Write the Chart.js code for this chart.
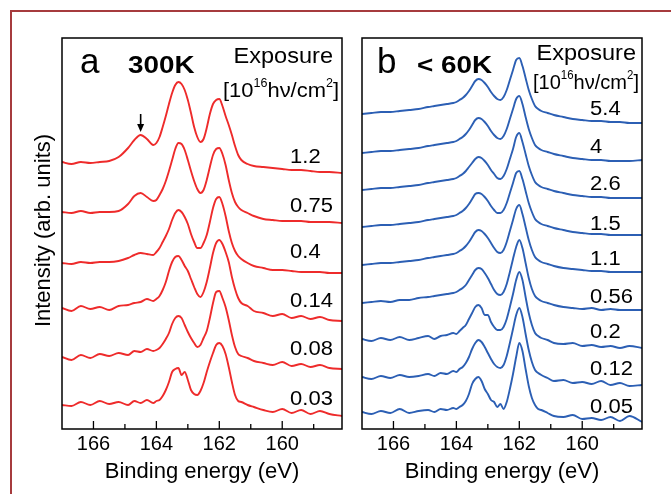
<!DOCTYPE html>
<html>
<head>
<meta charset="utf-8">
<script src="https://cdn.jsdelivr.net/npm/chart.js@4.4.1/dist/chart.umd.min.js"></script>
<style>
  html, body { margin: 0; padding: 0; background: #fff; overflow: hidden; }
  #page { position: relative; width: 671px; height: 494px; overflow: hidden; background: #fff; }
  #frame { position: absolute; left: 10px; top: 10px; width: 720px; height: 540px; border-left: 2px solid #a63b3d; border-top: 2px solid #a63b3d; }
  canvas { position: absolute; top: 0; }
  #chartA { left: 0; }
  #chartB { left: 352px; }
</style>
</head>
<body>
<div id="page">
  <div id="frame"></div>
  <canvas id="chartA" width="352" height="494"></canvas>
  <canvas id="chartB" width="319" height="494"></canvas>
</div>
<script>
const FONT = '"Liberation Sans", Arial, Helvetica, sans-serif';
Chart.defaults.font.family = FONT;
Chart.defaults.color = '#000';

// binding energy grid (eV), finer around the two S 2p peaks
const energies = [167, 166.7, 166.4, 166.1, 165.8, 165.5, 165.2, 164.9, 164.7, 164.5, 164.3,
  164.1, 164.0, 163.9, 163.8, 163.7, 163.6, 163.5, 163.4, 163.3, 163.2,
  163.1, 163.0, 162.9, 162.8, 162.7, 162.6, 162.5, 162.4, 162.3, 162.2,
  162.1, 162.0, 161.9, 161.8, 161.7, 161.6, 161.5, 161.4, 161.3,
  161.1, 160.9, 160.6, 160.3, 160.0, 159.7, 159.4, 159.1, 158.8, 158.5, 158.1];
const xTicks = [166, 164, 162, 160];
const xMinorTicks = [165, 163, 161, 159];

// panel a : 300K (offset spectra, arb. units)
const expA = ['1.2', '0.75', '0.4', '0.14', '0.08', '0.03'];
const a_1_2 = [267,265,267,266,267,268,272,281,289,294,290,
  284,286,292,302,313,325,336,344,347,345,339,329,316,302,292,287,290,301,315,325,329,330,323,313,304,294,283,274,269,
  265,263,262,261,260,259,259,258,257,257,256];
const a_0_75 = [217,216,218,216,217,217,218,225,233,236,232,
  228,229,234,240,248,258,269,280,286,285,279,269,258,248,240,236,239,249,262,274,280,281,275,264,249,236,227,222,219,
  216,213,210,209,208,208,208,207,207,207,206];
const a_0_4 = [166,165,167,166,167,167,168,171,174,176,175,
  174,177,181,187,193,200,209,216,219,217,212,205,195,187,181,181,186,194,207,221,230,232,225,213,198,186,178,173,170,
  166,163,161,159,159,158,157,157,157,156,156];
const a_0_14 = [121,118,123,120,122,119,123,124,126,127,130,
  128,130,133,139,147,158,167,172,173,169,163,158,150,142,135,132,137,147,161,176,186,189,185,177,167,152,140,131,126,
  123,118,116,113,115,111,113,110,112,109,108];
const a_0_08 = [72,69,74,71,75,73,76,74,78,77,80,
  78,79,81,85,90,96,105,111,113,111,104,97,91,86,82,84,91,98,111,126,137,138,131,122,109,94,82,75,73,
  71,68,66,64,67,63,65,62,64,61,60];
const a_0_03 = [24,23,27,24,28,25,27,24,28,26,29,
  26,28,29,33,39,47,57,60,61,54,57,49,39,35,34,38,46,57,67,76,84,86,83,75,62,47,34,28,27,
  24,22,19,17,20,16,19,15,18,15,13];
const labelLevelA = [266, 217, 171, 122, 74, 24];

// panel b : < 60K
const expB = ['5.4', '4', '2.6', '1.5', '1.1', '0.56', '0.2', '0.12', '0.05'];
const b_5_4 = [315,316,317,317,318,319,320,322,323,324,325,
  326,327,329,331,334,338,343,348,350,349,346,342,337,333,330,329,332,339,349,359,369,371,363,351,339,330,323,320,318,
  316,314,312,310,309,308,308,307,307,306,306];
const b_4 = [276,277,278,278,279,280,281,283,284,285,286,
  287,288,290,292,295,299,304,309,311,310,307,303,298,294,291,290,293,300,310,320,330,333,325,312,300,291,284,281,279,
  277,275,273,271,270,269,269,268,268,268,269];
const b_2_6 = [239,240,241,241,242,243,244,246,247,248,249,
  250,251,253,255,258,262,266,270,272,271,268,264,259,255,251,250,253,260,270,280,292,296,287,275,263,254,247,244,242,
  240,238,236,234,233,232,232,231,231,231,231];
const b_1_5 = [202,203,204,204,205,206,207,209,210,211,212,
  213,214,216,218,221,225,230,235,236,235,232,228,223,219,216,216,219,226,236,246,256,258,250,238,226,217,210,207,205,
  203,201,199,197,196,195,195,194,194,194,194];
const b_1_1 = [164,165,166,166,167,168,169,171,172,173,174,
  175,176,178,180,183,187,192,197,199,198,195,191,186,181,177,176,179,187,198,209,220,224,215,202,189,179,172,169,167,
  165,163,161,160,159,158,158,157,157,157,157];
const b_0_56 = [126,127,128,127,129,129,131,132,133,134,135,
  136,137,139,141,144,149,154,159,161,160,156,151,145,139,135,134,137,145,157,170,182,189,181,166,151,140,133,130,128,
  126,124,122,121,120,121,119,120,119,119,119];
const b_0_2 = [90,88,91,89,92,89,91,93,90,93,94,
  96,95,98,101,104,110,116,122,124,121,114,114,107,102,99,99,102,110,122,135,149,157,149,132,116,104,96,93,91,
  89,86,85,86,83,84,82,83,81,83,81];
const b_0_12 = [52,50,53,51,54,52,53,55,53,56,55,
  58,57,60,62,66,72,80,86,89,87,82,76,70,65,62,61,64,73,86,100,114,121,112,95,79,67,59,56,54,
  51,48,49,46,47,45,48,44,46,43,44];
const b_0_05 = [17,15,18,16,20,16,18,19,17,20,19,
  21,20,22,24,28,35,45,50,52,48,40,35,29,27,22,25,20,27,40,55,72,86,78,60,43,31,24,20,19,
  16,13,12,14,10,11,9,12,8,13,7];
const labelLevelB = [314, 276, 239, 199, 164, 126, 91, 54, 16];

const labelEnergy = 159.75;
const arrowEnergy = 164.5;

function textAt(ctx, str, x, y, font, align, sx) {
  ctx.save();
  ctx.font = font;
  ctx.fillStyle = '#000';
  ctx.textBaseline = 'alphabetic';
  ctx.textAlign = align || 'left';
  ctx.translate(x, y);
  ctx.scale(sx || 1, 1);
  ctx.fillText(str, 0, 0);
  ctx.restore();
}

// "[10^16 hν/cm^2]" fitted to a width, right aligned
function unitText(ctx, right, y, width) {
  const parts = [['[10', false], ['16', true], ['hν/cm', false], ['2', true], [']', false]];
  const big = '21px ' + FONT, small = '12px ' + FONT;
  ctx.save();
  let w = 0;
  parts.forEach(p => { ctx.font = p[1] ? small : big; w += ctx.measureText(p[0]).width; });
  const sx = width / w;
  ctx.translate(right - width, y);
  ctx.scale(sx, 1);
  ctx.fillStyle = '#000';
  ctx.textBaseline = 'alphabetic';
  let cx = 0;
  parts.forEach(p => {
    ctx.font = p[1] ? small : big;
    ctx.fillText(p[0], cx, p[1] ? -10 : 0);
    cx += ctx.measureText(p[0]).width;
  });
  ctx.restore();
}

function panelPlugin(cfg) {
  return {
    id: 'panel' + cfg.letter,
    afterDraw(chart) {
      const ctx = chart.ctx, ca = chart.chartArea;
      const xs = chart.scales.x, ys = chart.scales.y;

      // frame + inward ticks
      ctx.save();
      ctx.strokeStyle = '#000';
      ctx.lineWidth = 1.5;
      ctx.strokeRect(ca.left, ca.top, ca.right - ca.left, ca.bottom - ca.top);
      ctx.lineWidth = 1.3;
      xTicks.forEach(v => {
        const px = xs.getPixelForValue(v);
        ctx.beginPath(); ctx.moveTo(px, ca.bottom); ctx.lineTo(px, ca.bottom - 8); ctx.stroke();
      });
      xMinorTicks.forEach(v => {
        const px = xs.getPixelForValue(v);
        ctx.beginPath(); ctx.moveTo(px, ca.bottom); ctx.lineTo(px, ca.bottom - 5); ctx.stroke();
      });
      ctx.restore();

      // headers
      textAt(ctx, cfg.letter, ca.left + cfg.letterDx, ca.top + 35, '35px ' + FONT, 'left', 1);
      textAt(ctx, cfg.temp, ca.left + cfg.tempDx, ca.top + 35, 'bold 24px ' + FONT, 'left', 1.16);
      textAt(ctx, 'Exposure', ca.right - cfg.expDx, ca.top + cfg.expY, '22px ' + FONT, 'right', 1.07);
      unitText(ctx, ca.right - 3, ca.top + cfg.unitY, cfg.unitW);

      // exposure labels next to the spectra
      cfg.labels.forEach((t, i) => {
        textAt(ctx, t, xs.getPixelForValue(labelEnergy), ys.getPixelForValue(cfg.levels[i]), '20px ' + FONT, 'left', 1.1);
      });

      if (cfg.arrow) {
        const ax = xs.getPixelForValue(arrowEnergy);
        const top = ys.getPixelForValue(cfg.arrow[0]), tip = ys.getPixelForValue(cfg.arrow[1]);
        ctx.save();
        ctx.strokeStyle = '#000'; ctx.fillStyle = '#000'; ctx.lineWidth = 1.6;
        ctx.beginPath(); ctx.moveTo(ax, top); ctx.lineTo(ax, tip - 6); ctx.stroke();
        ctx.beginPath(); ctx.moveTo(ax - 3.5, tip - 8); ctx.lineTo(ax + 3.5, tip - 8); ctx.lineTo(ax, tip); ctx.closePath(); ctx.fill();
        ctx.restore();
      }

      if (cfg.yTitle) {
        ctx.save();
        ctx.translate(44, (ca.top + ca.bottom) / 2 - 3);
        ctx.rotate(-Math.PI / 2);
        ctx.font = '22px ' + FONT;
        ctx.fillStyle = '#000';
        ctx.textAlign = 'center';
        ctx.textBaseline = 'middle';
        ctx.fillText(cfg.yTitle, 0, 0);
        ctx.restore();
      }
    }
  };
}

function makeChart(id, spectra, color, padding, cfg) {
  const datasets = spectra.map(s => ({
    data: s.map((v, i) => ({ x: energies[i], y: v })),
    borderColor: color,
    borderWidth: 1.9,
    pointRadius: 0,
    cubicInterpolationMode: 'monotone',
    fill: false
  }));
  return new Chart(document.getElementById(id), {
    type: 'line',
    data: { datasets },
    options: {
      responsive: false,
      animation: false,
      layout: { padding },
      plugins: { legend: { display: false }, tooltip: { enabled: false } },
      scales: {
        x: {
          type: 'linear', reverse: true, min: 158.1, max: 167,
          afterBuildTicks: s => { s.ticks = xTicks.map(v => ({ value: v })); },
          grid: { display: false, drawTicks: false },
          border: { display: false },
          ticks: { font: { size: 20 }, padding: 3, color: '#000', maxRotation: 0 },
          title: { display: true, text: 'Binding energy (eV)', font: { size: 22 }, color: '#000', padding: { top: 0, bottom: 0 } }
        },
        y: { display: false, min: 0, max: 391 }
      }
    },
    plugins: [panelPlugin(cfg)]
  });
}

makeChart('chartA', [a_1_2, a_0_75, a_0_4, a_0_14, a_0_08, a_0_03], '#ee2b2b',
  { left: 62, right: 10, top: 38, bottom: 8.6 },
  { letter: 'a', letterDx: 18, temp: '300K', tempDx: 66, expDx: 9, expY: 25, unitY: 59, unitW: 116,
    labels: expA, levels: labelLevelA, arrow: [315, 297], yTitle: 'Intensity (arb. units)' });

makeChart('chartB', [b_5_4, b_4, b_2_6, b_1_5, b_1_1, b_0_56, b_0_2, b_0_12, b_0_05], '#2c5fb4',
  { left: 10, right: 29, top: 38, bottom: 8.6 },
  { letter: 'b', letterDx: 15, temp: '< 60K', tempDx: 55, expDx: 6, expY: 22, unitY: 51, unitW: 106,
    labels: expB, levels: labelLevelB });
</script>
</body>
</html>
